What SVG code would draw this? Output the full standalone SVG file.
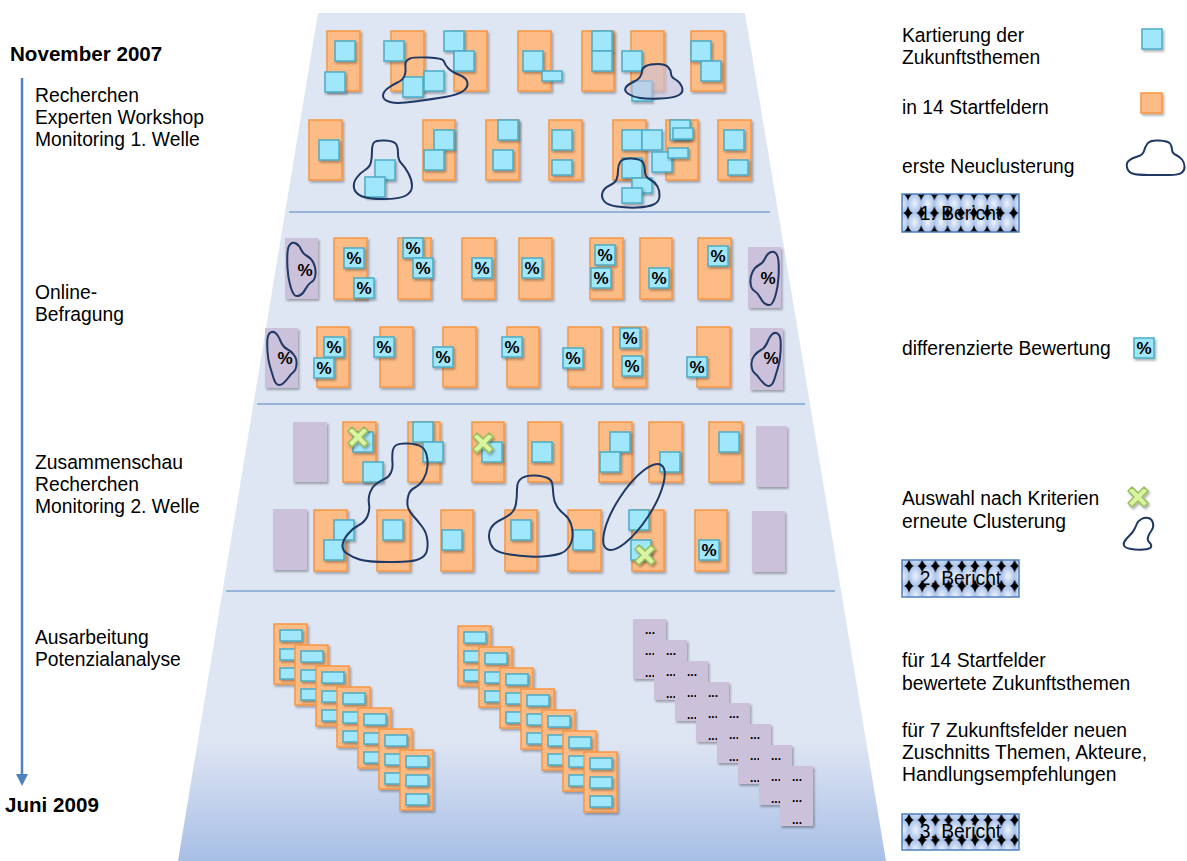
<svg xmlns="http://www.w3.org/2000/svg" xmlns:xlink="http://www.w3.org/1999/xlink" width="1187" height="861" viewBox="0 0 1187 861">
<style>
.or{fill:#FDBC85;stroke:#F79646;stroke-width:1.5;filter:url(#sh)}
.bl{fill:#A0E7FB;stroke:#4BACC6;stroke-width:1.5;filter:url(#sh)}
.pu{fill:#CCC1DA;filter:url(#sh)}
.cl{fill:none;stroke:#1F3864;stroke-width:2;stroke-linejoin:round}
.xm{fill:#D8F5A4;stroke:#9BBB59;stroke-width:1.5;stroke-linejoin:round;filter:url(#sh)}
.pc{font-family:"Liberation Sans",Arial,sans-serif;font-weight:bold;font-size:17px;text-anchor:middle;fill:#000}
.dt{font-family:"Liberation Sans",Arial,sans-serif;font-weight:bold;font-size:12px;text-anchor:middle;fill:#000}
.t{font-family:"Liberation Sans",Arial,sans-serif;font-size:19.3px;fill:#000}
.tb{font-family:"Liberation Sans",Arial,sans-serif;font-size:20.6px;font-weight:bold;fill:#000}
.sep{stroke:#4F81BD;stroke-width:1.2}
.ber{stroke:#4F81BD;stroke-width:1.5}
</style>
<defs>
<filter id="sh" x="-30%" y="-30%" width="170%" height="170%">
<feDropShadow dx="1.5" dy="2" stdDeviation="1.2" flood-color="#000" flood-opacity="0.3"/>
</filter>
<linearGradient id="bg" gradientUnits="userSpaceOnUse" x1="0" y1="13" x2="0" y2="861">
<stop offset="0" stop-color="#DFE6F3"/>
<stop offset="0.86" stop-color="#DEE5F3"/>
<stop offset="1" stop-color="#A8BFE6"/>
</linearGradient>
<radialGradient id="rg" cx="0.5" cy="0.5" r="0.5">
<stop offset="0" stop-color="#EEF3FB"/>
<stop offset="1" stop-color="#A9C1EA"/>
</radialGradient>
<pattern id="p1" patternUnits="userSpaceOnUse" x="908" y="194" width="13.2" height="19">
<rect width="13.2" height="19" fill="#000"/>
<ellipse cx="6.6" cy="9.5" rx="6.8" ry="9.9" fill="url(#rg)"/>
</pattern>
<pattern id="p2" patternUnits="userSpaceOnUse" x="909" y="566" width="13.2" height="20">
<rect width="13.2" height="20" fill="#000"/>
<ellipse cx="6.6" cy="10" rx="6.9" ry="10.4" fill="url(#rg)"/>
</pattern>
<pattern id="p3" patternUnits="userSpaceOnUse" x="909" y="820" width="13.2" height="20">
<rect width="13.2" height="20" fill="#000"/>
<ellipse cx="6.6" cy="10" rx="6.9" ry="10.4" fill="url(#rg)"/>
</pattern>
<path id="xs" d="M-10,-6 L-6,-10 L0,-4 L6,-10 L10,-6 L4,0 L10,6 L6,10 L0,4 L-6,10 L-10,6 L-4,0 Z"/>
<g id="oc">
<rect class="or" width="33" height="60"/>
<rect class="bl" x="6" y="6" width="22" height="11"/>
<rect class="bl" x="6" y="25" width="22" height="11"/>
<rect class="bl" x="6" y="44" width="22" height="11"/>
</g>
<g id="pcard">
<rect class="pu" width="33" height="60"/>
<text class="dt" x="17" y="15">...</text>
<text class="dt" x="17" y="36">...</text>
<text class="dt" x="17" y="58">...</text>
</g>
</defs>

<rect width="1187" height="861" fill="#FFFFFF"/>
<polygon id="funnel" points="318,13 745,13 886,861 178,861" fill="url(#bg)"/>

<g id="separators">
<line class="sep" x1="289" y1="212" x2="770" y2="212"/>
<line class="sep" x1="257" y1="404" x2="805" y2="404"/>
<line class="sep" x1="226" y1="591" x2="835" y2="591"/>
</g>

<g id="timeline">
<line x1="22" y1="78" x2="22" y2="776" stroke="#4F81BD" stroke-width="2.5"/>
<polygon points="16,774 28,774 22,786" fill="#4F81BD"/>
<text class="tb" x="10" y="61">November 2007</text>
<text class="tb" x="5" y="812">Juni 2009</text>
</g>

<g id="phase-labels">
<text class="t" x="35" y="102">Recherchen</text>
<text class="t" x="35" y="124">Experten Workshop</text>
<text class="t" x="35" y="146">Monitoring 1. Welle</text>
<text class="t" x="35" y="299">Online-</text>
<text class="t" x="35" y="321">Befragung</text>
<text class="t" x="35" y="469">Zusammenschau</text>
<text class="t" x="35" y="491">Recherchen</text>
<text class="t" x="35" y="513">Monitoring 2. Welle</text>
<text class="t" x="35" y="644">Ausarbeitung</text>
<text class="t" x="35" y="666">Potenzialanalyse</text>
</g>

<g id="section1">
<rect class="or" x="327" y="31" width="33" height="60"/>
<rect class="or" x="391" y="31" width="33" height="60"/>
<rect class="or" x="454" y="31" width="33" height="60"/>
<rect class="or" x="518" y="31" width="33" height="60"/>
<rect class="or" x="582" y="31" width="32" height="60"/>
<rect class="or" x="631" y="31" width="33" height="60"/>
<rect class="or" x="691" y="31" width="33" height="60"/>
<rect class="or" x="309" y="120" width="33" height="60"/>
<rect class="or" x="423" y="120" width="32" height="60"/>
<rect class="or" x="486" y="120" width="33" height="60"/>
<rect class="or" x="549" y="120" width="33" height="60"/>
<rect class="or" x="613" y="120" width="33" height="60"/>
<rect class="or" x="666" y="120" width="32" height="60"/>
<rect class="or" x="718" y="120" width="33" height="60"/>

<rect class="bl" x="335" y="41" width="20" height="20"/>
<rect class="bl" x="325" y="72" width="20" height="20"/>
<rect class="bl" x="384" y="41" width="20" height="20"/>
<rect class="bl" x="403" y="77" width="20" height="20"/>
<rect class="bl" x="424" y="71" width="20" height="20"/>
<rect class="bl" x="444" y="31" width="20" height="20"/>
<rect class="bl" x="454" y="51" width="20" height="20"/>
<rect class="bl" x="523" y="51" width="20" height="20"/>
<rect class="bl" x="542" y="71" width="20" height="10"/>
<rect class="bl" x="592" y="31" width="20" height="20"/>
<rect class="bl" x="592" y="51" width="20" height="20"/>
<rect class="bl" x="622" y="51" width="20" height="20"/>
<rect class="bl" x="632" y="81" width="20" height="20"/>
<rect class="bl" x="691" y="41" width="20" height="20"/>
<rect class="bl" x="701" y="61" width="20" height="20"/>

<rect class="bl" x="319" y="140" width="20" height="20"/>
<rect class="bl" x="375" y="160" width="20" height="20"/>
<rect class="bl" x="365" y="177" width="20" height="20"/>
<rect class="bl" x="434" y="130" width="20" height="20"/>
<rect class="bl" x="424" y="150" width="20" height="20"/>
<rect class="bl" x="498" y="120" width="20" height="20"/>
<rect class="bl" x="493" y="150" width="20" height="20"/>
<rect class="bl" x="552" y="130" width="20" height="20"/>
<rect class="bl" x="552" y="160" width="20" height="15"/>
<rect class="bl" x="622" y="130" width="20" height="20"/>
<rect class="bl" x="642" y="130" width="20" height="20"/>
<rect class="bl" x="652" y="152" width="20" height="20"/>
<rect class="bl" x="622" y="158" width="20" height="20"/>
<rect class="bl" x="632" y="178" width="20" height="15"/>
<rect class="bl" x="622" y="188" width="20" height="15"/>
<rect class="bl" x="670" y="120" width="20" height="20"/>
<rect class="bl" x="673" y="128" width="20" height="11"/>
<rect class="bl" x="668" y="148" width="20" height="10"/>
<rect class="bl" x="724" y="130" width="20" height="20"/>
<rect class="bl" x="728" y="160" width="20" height="15"/>

<path class="cl" d="M410,58.5 Q413,57 428,57.5 Q443,58 444,61.5 Q445,65 448.5,68.5 Q452,72 459.5,75 Q467,78 467.5,83 Q468,88 462.5,91.5 Q457,95 445,97 Q433,99 415,101.5 Q397,104 390,102 Q383,100 383,96 Q383,92 387.5,88.5 Q392,85 397.5,82.5 Q403,80 404.5,76 Q406,72 405.5,67.5 Q405,63 406,61.5 Q407,60 410,58.5 Z"/>
<path class="cl" style="fill:#C9C3DD;fill-opacity:0.6" d="M646,66 Q650,64 657.5,64 Q665,64 668,67 Q671,70 671,73.5 Q671,77 675.5,79.5 Q680,82 682,87 Q684,92 679,95 Q674,98 660.5,98.5 Q647,99 640,98 Q633,97 628.5,94 Q624,91 625.5,88 Q627,85 632.5,82.5 Q638,80 640,77 Q642,74 642,71 Q642,68 646,66 Z"/>
<path class="cl" d="M374,142.5 Q376,140 385,140.5 Q394,141 396,144 Q398,147 398,153.5 Q398,160 401.5,163.5 Q405,167 408.5,173.5 Q412,180 412,186 Q412,192 406,195.5 Q400,199 383.5,199 Q367,199 361,196 Q355,193 354,188 Q353,183 356.5,178 Q360,173 365,170 Q370,167 371,162 Q372,157 372,151 Q372,145 374,142.5 Z"/>
<path class="cl" d="M620.5,161.5 Q623,158 632,158.5 Q641,159 643,162.5 Q645,166 645,171.5 Q645,177 650,179.5 Q655,182 657.5,186.5 Q660,191 659.5,196.5 Q659,202 653.5,204.5 Q648,207 637.5,207.5 Q627,208 617,206.5 Q607,205 604,201 Q601,197 602.5,192.5 Q604,188 609.5,185.5 Q615,183 616.5,179.5 Q618,176 618,170.5 Q618,165 620.5,161.5 Z"/>
</g>

<g id="section2">
<rect class="pu" x="285" y="238" width="33" height="61"/>
<rect class="pu" x="265" y="328" width="33" height="60"/>
<rect class="pu" x="748" y="247" width="33" height="61"/>
<rect class="pu" x="750" y="328" width="33" height="62"/>
<path class="cl" d="M290.5,244 Q293,242 296,243.5 Q299,245 301,249.5 Q303,254 307,256 Q311,258 313.5,263 Q316,268 315.5,274 Q315,280 311.5,282 Q308,284 305.5,289 Q303,294 299.5,295.5 Q296,297 294,294.5 Q292,292 290,284.5 Q288,277 287.5,268 Q287,259 287.5,252.5 Q288,246 290.5,244 Z"/>
<path class="cl" d="M270.5,332.5 Q273,331 275.5,333 Q278,335 280.5,341 Q283,347 287,349 Q291,351 294,355 Q297,359 296.5,364.5 Q296,370 293.5,372 Q291,374 288.5,377.5 Q286,381 283,383.5 Q280,386 277.5,384.5 Q275,383 273.5,378 Q272,373 270,366.5 Q268,360 267.5,351.5 Q267,343 267.5,338.5 Q268,334 270.5,332.5 Z"/>
<path class="cl" transform="translate(1066,9) scale(-1,1)" d="M290.5,244 Q293,242 296,243.5 Q299,245 301,249.5 Q303,254 307,256 Q311,258 313.5,263 Q316,268 315.5,274 Q315,280 311.5,282 Q308,284 305.5,289 Q303,294 299.5,295.5 Q296,297 294,294.5 Q292,292 290,284.5 Q288,277 287.5,268 Q287,259 287.5,252.5 Q288,246 290.5,244 Z"/>
<path class="cl" transform="translate(1048,1) scale(-1,1)" d="M270.5,332.5 Q273,331 275.5,333 Q278,335 280.5,341 Q283,347 287,349 Q291,351 294,355 Q297,359 296.5,364.5 Q296,370 293.5,372 Q291,374 288.5,377.5 Q286,381 283,383.5 Q280,386 277.5,384.5 Q275,383 273.5,378 Q272,373 270,366.5 Q268,360 267.5,351.5 Q267,343 267.5,338.5 Q268,334 270.5,332.5 Z"/>
<text class="pc" x="305" y="276">%</text>
<text class="pc" x="285" y="364">%</text>
<text class="pc" x="768" y="284">%</text>
<text class="pc" x="771" y="364">%</text>

<rect class="or" x="334" y="238" width="33" height="61"/>
<rect class="or" x="398" y="238" width="33" height="61"/>
<rect class="or" x="462" y="238" width="33" height="61"/>
<rect class="or" x="519" y="238" width="33" height="61"/>
<rect class="or" x="590" y="238" width="33" height="61"/>
<rect class="or" x="640" y="238" width="32" height="61"/>
<rect class="or" x="698" y="238" width="33" height="61"/>
<rect class="or" x="317" y="327" width="32" height="60"/>
<rect class="or" x="380" y="327" width="33" height="60"/>
<rect class="or" x="443" y="327" width="33" height="60"/>
<rect class="or" x="507" y="327" width="32" height="60"/>
<rect class="or" x="568" y="327" width="33" height="60"/>
<rect class="or" x="613" y="327" width="33" height="60"/>
<rect class="or" x="697" y="327" width="33" height="60"/>

<g id="pct">
<rect class="bl" x="344" y="248" width="20" height="20"/><text class="pc" x="354" y="264">%</text>
<rect class="bl" x="354" y="278" width="20" height="20"/><text class="pc" x="364" y="294">%</text>
<rect class="bl" x="403" y="238" width="20" height="20"/><text class="pc" x="413" y="254">%</text>
<rect class="bl" x="413" y="258" width="20" height="20"/><text class="pc" x="423" y="274">%</text>
<rect class="bl" x="472" y="258" width="20" height="20"/><text class="pc" x="482" y="274">%</text>
<rect class="bl" x="522" y="258" width="20" height="20"/><text class="pc" x="532" y="274">%</text>
<rect class="bl" x="595" y="245" width="20" height="20"/><text class="pc" x="605" y="261">%</text>
<rect class="bl" x="591" y="268" width="20" height="20"/><text class="pc" x="601" y="284">%</text>
<rect class="bl" x="649" y="268" width="20" height="20"/><text class="pc" x="659" y="284">%</text>
<rect class="bl" x="708" y="246" width="20" height="20"/><text class="pc" x="718" y="262">%</text>
<rect class="bl" x="324" y="337" width="20" height="20"/><text class="pc" x="334" y="353">%</text>
<rect class="bl" x="314" y="358" width="20" height="20"/><text class="pc" x="324" y="374">%</text>
<rect class="bl" x="374" y="337" width="20" height="20"/><text class="pc" x="384" y="353">%</text>
<rect class="bl" x="433" y="347" width="20" height="20"/><text class="pc" x="443" y="363">%</text>
<rect class="bl" x="502" y="337" width="20" height="20"/><text class="pc" x="512" y="353">%</text>
<rect class="bl" x="563" y="348" width="20" height="20"/><text class="pc" x="573" y="364">%</text>
<rect class="bl" x="620" y="328" width="20" height="20"/><text class="pc" x="630" y="344">%</text>
<rect class="bl" x="622" y="356" width="20" height="20"/><text class="pc" x="632" y="372">%</text>
<rect class="bl" x="687" y="357" width="20" height="20"/><text class="pc" x="697" y="373">%</text>
</g>
</g>

<g id="section3">
<rect class="pu" x="293" y="422" width="34" height="60"/>
<rect class="pu" x="756" y="426" width="31" height="61"/>
<rect class="pu" x="273" y="509" width="34" height="61"/>
<rect class="pu" x="752" y="511" width="33" height="61"/>
<rect class="or" x="343" y="422" width="33" height="60"/>
<rect class="or" x="408" y="422" width="32" height="60"/>
<rect class="or" x="472" y="422" width="32" height="60"/>
<rect class="or" x="528" y="422" width="33" height="60"/>
<rect class="or" x="599" y="422" width="33" height="60"/>
<rect class="or" x="649" y="422" width="33" height="60"/>
<rect class="or" x="709" y="422" width="33" height="60"/>
<rect class="or" x="314" y="510" width="33" height="61"/>
<rect class="or" x="377" y="510" width="33" height="61"/>
<rect class="or" x="441" y="510" width="32" height="61"/>
<rect class="or" x="505" y="510" width="32" height="61"/>
<rect class="or" x="568" y="510" width="33" height="61"/>
<rect class="or" x="632" y="510" width="32" height="61"/>
<rect class="or" x="695" y="510" width="32" height="61"/>

<rect class="bl" x="353" y="432" width="20" height="20"/>
<rect class="bl" x="363" y="462" width="20" height="20"/>
<rect class="bl" x="413" y="422" width="20" height="20"/>
<rect class="bl" x="423" y="442" width="20" height="20"/>
<rect class="bl" x="482" y="442" width="20" height="20"/>
<rect class="bl" x="532" y="442" width="20" height="20"/>
<rect class="bl" x="610" y="432" width="20" height="20"/>
<rect class="bl" x="600" y="452" width="20" height="20"/>
<rect class="bl" x="660" y="452" width="20" height="20"/>
<rect class="bl" x="719" y="432" width="20" height="20"/>
<rect class="bl" x="334" y="520" width="20" height="20"/>
<rect class="bl" x="324" y="540" width="20" height="20"/>
<rect class="bl" x="383" y="520" width="20" height="20"/>
<rect class="bl" x="442" y="530" width="20" height="20"/>
<rect class="bl" x="511" y="520" width="20" height="20"/>
<rect class="bl" x="573" y="530" width="20" height="20"/>
<rect class="bl" x="629" y="510" width="20" height="20"/>
<rect class="bl" x="631" y="540" width="20" height="20"/>
<rect class="bl" x="699" y="540" width="20" height="20"/><text class="pc" x="709" y="556">%</text>

<use href="#xs" class="xm" x="358" y="437"/>
<use href="#xs" class="xm" x="483" y="443"/>
<use href="#xs" class="xm" x="645" y="555"/>

<path class="cl" d="M396.5,445 Q400,443 408.5,443.5 Q417,444 421,446.5 Q425,449 426.5,454.5 Q428,460 427.5,466.5 Q427,473 423.5,479 Q420,485 415,487.5 Q410,490 408.5,495 Q407,500 407.5,505 Q408,510 412.5,515 Q417,520 422,526.5 Q427,533 427.5,541.5 Q428,550 425.5,554 Q423,558 416.5,560 Q410,562 388.5,562 Q367,562 359.5,559.5 Q352,557 347,553.5 Q342,550 342.5,545 Q343,540 348,534 Q353,528 359,525 Q365,522 367.5,516 Q370,510 369,504 Q368,498 370,492.5 Q372,487 376,484 Q380,481 384.5,479 Q389,477 391,472.5 Q393,468 392.5,463 Q392,458 392.5,452.5 Q393,447 396.5,445 Z"/>
<path class="cl" d="M522,478 Q527,475 535,475.5 Q543,476 547.5,478 Q552,480 552.5,485 Q553,490 553.5,496 Q554,502 557,506.5 Q560,511 564.5,514.5 Q569,518 571,524 Q573,530 572.5,536.5 Q572,543 568.5,547.5 Q565,552 560.5,553.5 Q556,555 548,556 Q540,557 530,556.5 Q520,556 510,554.5 Q500,553 495.5,550 Q491,547 489.5,540 Q488,533 491,528 Q494,523 500.5,520 Q507,517 511,513.5 Q515,510 516,503.5 Q517,497 517,489 Q517,481 522,478 Z"/>
<ellipse class="cl" cx="634" cy="507" rx="50" ry="17" transform="rotate(-57 634 507)"/>
</g>

<g id="section4">
<g id="stack1">
<use href="#oc" x="274" y="624"/>
<use href="#oc" x="295" y="645"/>
<use href="#oc" x="316" y="666"/>
<use href="#oc" x="337" y="687"/>
<use href="#oc" x="358" y="708"/>
<use href="#oc" x="379" y="729"/>
<use href="#oc" x="400" y="750"/>
</g>
<g id="stack2">
<use href="#oc" x="458" y="626"/>
<use href="#oc" x="479" y="647"/>
<use href="#oc" x="500" y="668"/>
<use href="#oc" x="521" y="689"/>
<use href="#oc" x="542" y="710"/>
<use href="#oc" x="563" y="731"/>
<use href="#oc" x="584" y="752"/>
</g>
<g id="stack3">
<use href="#pcard" x="633" y="619"/>
<use href="#pcard" x="654" y="640"/>
<use href="#pcard" x="675" y="661"/>
<use href="#pcard" x="696" y="682"/>
<use href="#pcard" x="717" y="703"/>
<use href="#pcard" x="738" y="724"/>
<use href="#pcard" x="759" y="745"/>
<use href="#pcard" x="780" y="766"/>
</g>
</g>

<g id="legend">
<text class="t" x="902" y="42">Kartierung der</text>
<text class="t" x="902" y="64">Zukunftsthemen</text>
<rect class="bl" x="1142" y="29" width="20" height="20"/>
<text class="t" x="902" y="114">in 14 Startfeldern</text>
<rect class="or" x="1141" y="93" width="21" height="20"/>
<text class="t" x="902" y="173">erste Neuclusterung</text>
<path class="cl" d="M1147.5,143.5 Q1150,140 1159,140.5 Q1168,141 1170,143.5 Q1172,146 1172,149.5 Q1172,153 1176,155 Q1180,157 1182,159.5 Q1184,162 1184.5,166 Q1185,170 1182,172.5 Q1179,175 1169.5,175 Q1160,175 1148.5,175 Q1137,175 1132.5,173.5 Q1128,172 1127,167.5 Q1126,163 1129,160.5 Q1132,158 1137.5,156.5 Q1143,155 1144,151 Q1145,147 1147.5,143.5 Z"/>
<g id="bericht1">
<rect class="ber" x="902" y="194" width="117" height="38" fill="url(#p1)"/>
<text class="t" x="960.5" y="220" text-anchor="middle">1. Bericht</text>
</g>
<text class="t" x="902" y="355">differenzierte Bewertung</text>
<rect class="bl" x="1134" y="338" width="20" height="20"/><text class="pc" x="1144" y="354">%</text>
<text class="t" x="902" y="505">Auswahl nach Kriterien</text>
<use href="#xs" class="xm" x="1138" y="497"/>
<text class="t" x="902" y="528">erneute Clusterung</text>
<path class="cl" d="M1141.5,519 Q1145,517 1148.5,518 Q1152,519 1153,523 Q1154,527 1151.5,530.5 Q1149,534 1148,537 Q1147,540 1149.5,542.5 Q1152,545 1151,547 Q1150,549 1143.5,549.5 Q1137,550 1131,549 Q1125,548 1124,545.5 Q1123,543 1125.5,540 Q1128,537 1130.5,534.5 Q1133,532 1134.5,529 Q1136,526 1137,523.5 Q1138,521 1141.5,519 Z"/>
<g id="bericht2">
<rect class="ber" x="902" y="560" width="117" height="37" fill="url(#p2)"/>
<text class="t" x="960.5" y="585" text-anchor="middle">2. Bericht</text>
</g>
<text class="t" x="902" y="667">für 14 Startfelder</text>
<text class="t" x="902" y="690">bewertete Zukunftsthemen</text>
<text class="t" x="902" y="737">für 7 Zukunftsfelder neuen</text>
<text class="t" x="902" y="759">Zuschnitts Themen, Akteure,</text>
<text class="t" x="902" y="781">Handlungsempfehlungen</text>
<g id="bericht3">
<rect class="ber" x="902" y="814" width="117" height="36" fill="url(#p3)"/>
<text class="t" x="960.5" y="838" text-anchor="middle">3. Bericht</text>
</g>
</g>
</svg>
